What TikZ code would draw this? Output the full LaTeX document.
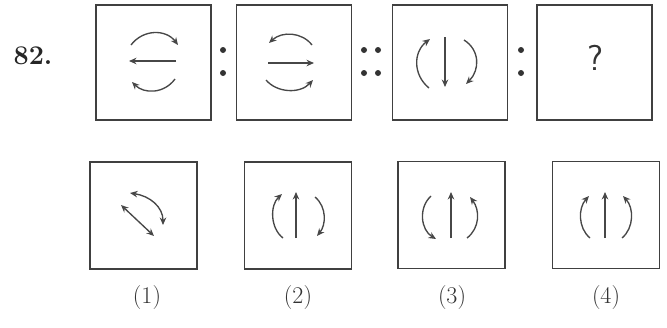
\documentclass[tikz,border=0pt]{standalone}
\usetikzlibrary{arrows.meta}
\begin{document}
\begin{tikzpicture}[x=1pt,y=-1pt,
  fig/.style={draw=black!75,line width=1.1pt,minimum width=#1,minimum height=#1,inner sep=0pt},
  arr/.style={draw=black!72,line width=1.35pt,-{Stealth[length=7.5pt,width=6.5pt]}},
  darr/.style={draw=black!72,line width=1.35pt,{Stealth[length=7.5pt,width=6.5pt]}-{Stealth[length=7.5pt,width=6.5pt]}},
  dot/.style={circle,fill=black!80,inner sep=0pt,minimum size=6pt},
  lab/.style={font=\fontsize{24}{24}\selectfont,text=black!80}]
\useasboundingbox (0,0) rectangle (667,327);
\node[font=\bfseries\fontsize{27}{27}\selectfont,text=black!85] (num) at (33,56) {82.};
% top row boxes
\node[fig=115pt] (b1) at (153.5,62.5) {};
\node[fig=115pt] (b2) at (294,62.5) {};
\node[fig=115pt] (b3) at (450,62.5) {};
\node[fig=115pt] (b4) at (594.5,62.5) {};
\node[dot] (c1a) at (223,50) {};
\node[dot] (c1b) at (223,73) {};
\node[dot] (c2a) at (364,50) {};
\node[dot] (c2b) at (364,73) {};
\node[dot] (c2c) at (378,50) {};
\node[dot] (c2d) at (378,73) {};
\node[dot] (c3a) at (521,50) {};
\node[dot] (c3b) at (521,73) {};
\node[font=\sffamily\fontsize{36}{36}\selectfont,text=black!80] (q) at (595,58) {?};
% box 1 arrows
\draw[arr] (131,45) .. controls (143,29) and (166,29) .. (178,45);
\draw[arr] (176,61) -- (129,61);
\draw[arr] (175,79) .. controls (164,94) and (144,94) .. (132,82);
% box 2 arrows
\draw[arr] (312,45) .. controls (302,32) and (282,31) .. (269,43);
\draw[arr] (268,63) -- (314,63);
\draw[arr] (266,80) .. controls (277,93) and (300,94) .. (313,80);
% box 3 arrows
\draw[arr] (429,88) .. controls (413,75) and (413,52) .. (430,39);
\draw[arr] (445,37) -- (445,87);
\draw[arr] (464,40) .. controls (480,50) and (480,70) .. (466,84);
% bottom row boxes
\node[fig=107pt] (o1) at (143.5,215.5) {};
\node[fig=107pt] (o2) at (298,215.5) {};
\node[fig=107pt] (o3) at (451.5,215) {};
\node[fig=107pt] (o4) at (606,215) {};
\node[lab] (l1) at (147,298) {(1)};
\node[lab] (l2) at (298,298) {(2)};
\node[lab] (l3) at (452,298) {(3)};
\node[lab] (l4) at (606,298) {(4)};
% option 1
\draw[darr] (130,193) .. controls (150,196) and (163,207) .. (163,225);
\draw[darr] (121,205) -- (154,236);
% option 2
\draw[arr] (283,238) .. controls (270,228) and (270,205) .. (282,194);
\draw[arr] (296,238) -- (296,192);
\draw[arr] (315,197) .. controls (327,207) and (326,225) .. (317,236);
% option 3
\draw[arr] (431,196) .. controls (418,208) and (421,230) .. (436,239);
\draw[arr] (451,238) -- (451,192);
\draw[arr] (467,238) .. controls (480,228) and (480,210) .. (470,197);
% option 4
\draw[arr] (590,238) .. controls (578,228) and (578,208) .. (589,196);
\draw[arr] (605,238) -- (605,192);
\draw[arr] (622,238) .. controls (634,228) and (634,208) .. (623,196);
\end{tikzpicture}
\end{document}
